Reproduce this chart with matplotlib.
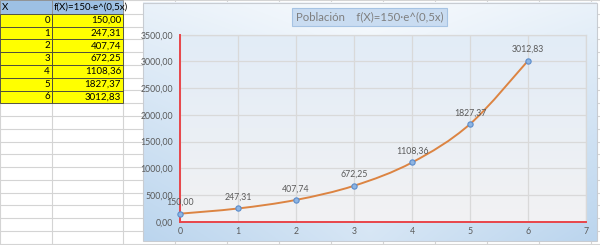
import numpy as np
import matplotlib
matplotlib.use("Agg")
import matplotlib.pyplot as plt
from matplotlib.path import Path
from matplotlib.patches import PathPatch, Rectangle

plt.rcParams['font.family'] = ['Lato', 'DejaVu Sans']

# ---- data ----
x_vals = [0, 1, 2, 3, 4, 5, 6]
y_vals = [150.00, 247.31, 407.74, 672.25, 1108.36, 1827.37, 3012.83]
col_headers = ["X", "f(X)=150·e^(0,5x)"]
chart_title = "Población    f(X)=150·e^(0,5x)"
y_ticks = [0, 500, 1000, 1500, 2000, 2500, 3000, 3500]
x_ticks = [0, 1, 2, 3, 4, 5, 6, 7]

def fmt(v):
    return f"{v:.2f}".replace('.', ',')

W, H = 600, 245
fig = plt.figure(figsize=(6, 2.45), dpi=100)
bg = fig.add_axes([0, 0, 1, 1])
bg.set_xlim(0, W)
bg.set_ylim(H, 0)
bg.axis('off')

# ---- spreadsheet grid ----
grid_c = '#D4D4D4'
row_h = 12.75
rows = [0, 14] + [14 + row_h * k for k in range(1, 19)]
cols = [0, 52, 123] + [123 + 52 * k for k in range(1, 10)]
for yy in rows:
    bg.plot([0, W], [yy, yy], color=grid_c, lw=0.8, zorder=0)
for xx in cols:
    bg.plot([xx, xx], [0, H], color=grid_c, lw=0.8, zorder=0)

# header
for (x0, x1), txt in zip([(0, 52), (52, 123)], col_headers):
    bg.add_patch(Rectangle((x0, 0), x1 - x0, 14, facecolor='#9DC0E4',
                           edgecolor='#8A8A8A', lw=0.6, zorder=1))
    bg.text(x0 + 2, 7, txt, ha='left', va='center', fontsize=7, color='black', zorder=2)

# yellow cells
for i, (xv, yv) in enumerate(zip(x_vals, y_vals)):
    y0 = 14 + row_h * i
    bg.add_patch(Rectangle((0, y0), 52, row_h, facecolor='#FFFF00',
                           edgecolor='#404040', lw=0.6, zorder=1))
    bg.add_patch(Rectangle((52, y0), 71, row_h, facecolor='#FFFF00',
                           edgecolor='#404040', lw=0.6, zorder=1))
    bg.text(50, y0 + row_h / 2, str(xv), ha='right', va='center', fontsize=7, zorder=2)
    bg.text(121, y0 + row_h / 2, fmt(yv), ha='right', va='center', fontsize=7, zorder=2)

# ---- chart background (gradient) ----
cx0, cx1, cy0, cy1 = 143, 597, 3, 241
nx, ny = 200, 120
u = np.linspace(0, 1, nx)[None, :]
v = np.linspace(0, 1, ny)[:, None]
t = np.clip(0.55 * v + 0.45 * np.abs(2 * u - 1) * (0.5 + 0.5 * v), 0, 1)
c_light = np.array([0xF7, 0xFA, 0xFD]) / 255
c_blue = np.array([0xBB, 0xD5, 0xEE]) / 255
img = c_light[None, None, :] * (1 - t[..., None]) + c_blue[None, None, :] * t[..., None]
bg.imshow(img, extent=(cx0, cx1, cy1, cy0), aspect='auto', zorder=3, interpolation='bilinear')
bg.add_patch(Rectangle((cx0, cy0), cx1 - cx0, cy1 - cy0, facecolor='none',
                       edgecolor='#C8CCD2', lw=0.8, zorder=4))

# title box
bg.add_patch(Rectangle((292, 8), 155, 18, facecolor='#C9DCF1', edgecolor='#A6C3E3',
                       lw=0.8, zorder=5))
bg.text(369.5, 17, chart_title, ha='center', va='center', fontsize=8.2,
        color='#7F7F7F', zorder=6)

# ---- plot area ----
pl, pr, pt, pb = 180, 586, 34.7, 221.7
ax = fig.add_axes([pl / W, (H - pb) / H, (pr - pl) / W, (pb - pt) / H])
ax.set_zorder(10)
ax.set_xlim(0, 7)
ax.set_ylim(0, 3500)

# plot area gradient
grad = np.linspace(0, 1, 100)[:, None]
top_c = np.array([0xE2, 0xEC, 0xF7]) / 255
bot_c = np.array([0xF2, 0xF2, 0xF3]) / 255
pimg = top_c[None, None, :] * (1 - grad[..., None]) + bot_c[None, None, :] * grad[..., None]
ax.imshow(np.repeat(pimg, 2, axis=1), extent=(0, 7, 0, 3500), aspect='auto',
          zorder=0, interpolation='bilinear')

ax.set_xticks(x_ticks)
ax.set_yticks(y_ticks)
ax.set_yticklabels([fmt(t_) for t_ in y_ticks])
ax.tick_params(axis='both', length=0, labelsize=6.3, colors='#595959')
ax.tick_params(axis='y', pad=5)
ax.tick_params(axis='x', pad=4)
ax.grid(True, color='#D9D9D9', lw=0.9, zorder=1)
ax.set_axisbelow(True)
for s in ['top', 'right']:
    ax.spines[s].set_color('#D9D9D9')
    ax.spines[s].set_linewidth(0.9)
for s in ['left', 'bottom']:
    ax.spines[s].set_color('#E8454A')
    ax.spines[s].set_linewidth(1.4)
    ax.spines[s].set_zorder(5)

# smooth line (Catmull-Rom -> cubic Bezier)
xs = np.array(x_vals, float)
ys = np.array(y_vals, float)
n = len(xs)
verts = [(xs[0], ys[0])]
codes = [Path.MOVETO]
for i in range(n - 1):
    p0 = (xs[max(i - 1, 0)], ys[max(i - 1, 0)])
    p1 = (xs[i], ys[i])
    p2 = (xs[i + 1], ys[i + 1])
    p3 = (xs[min(i + 2, n - 1)], ys[min(i + 2, n - 1)])
    c1 = (p1[0] + (p2[0] - p0[0]) / 6, p1[1] + (p2[1] - p0[1]) / 6)
    c2 = (p2[0] - (p3[0] - p1[0]) / 6, p2[1] - (p3[1] - p1[1]) / 6)
    verts += [c1, c2, p2]
    codes += [Path.CURVE4] * 3
ax.add_patch(PathPatch(Path(verts, codes), facecolor='none', edgecolor='#DC8442',
                       lw=1.4, zorder=6))
ax.plot(x_vals, y_vals, linestyle='none', marker='o', markersize=3.8,
        markerfacecolor='#8DB4E2', markeredgecolor='#5B8CCB', markeredgewidth=0.8,
        zorder=7, clip_on=False)
for xv, yv in zip(x_vals, y_vals):
    ax.annotate(fmt(yv), (xv, yv), xytext=(0, 8), textcoords='offset points',
                ha='center', va='center', fontsize=6.3, color='#595959', zorder=8)

fig.savefig('out.png', dpi=100)
